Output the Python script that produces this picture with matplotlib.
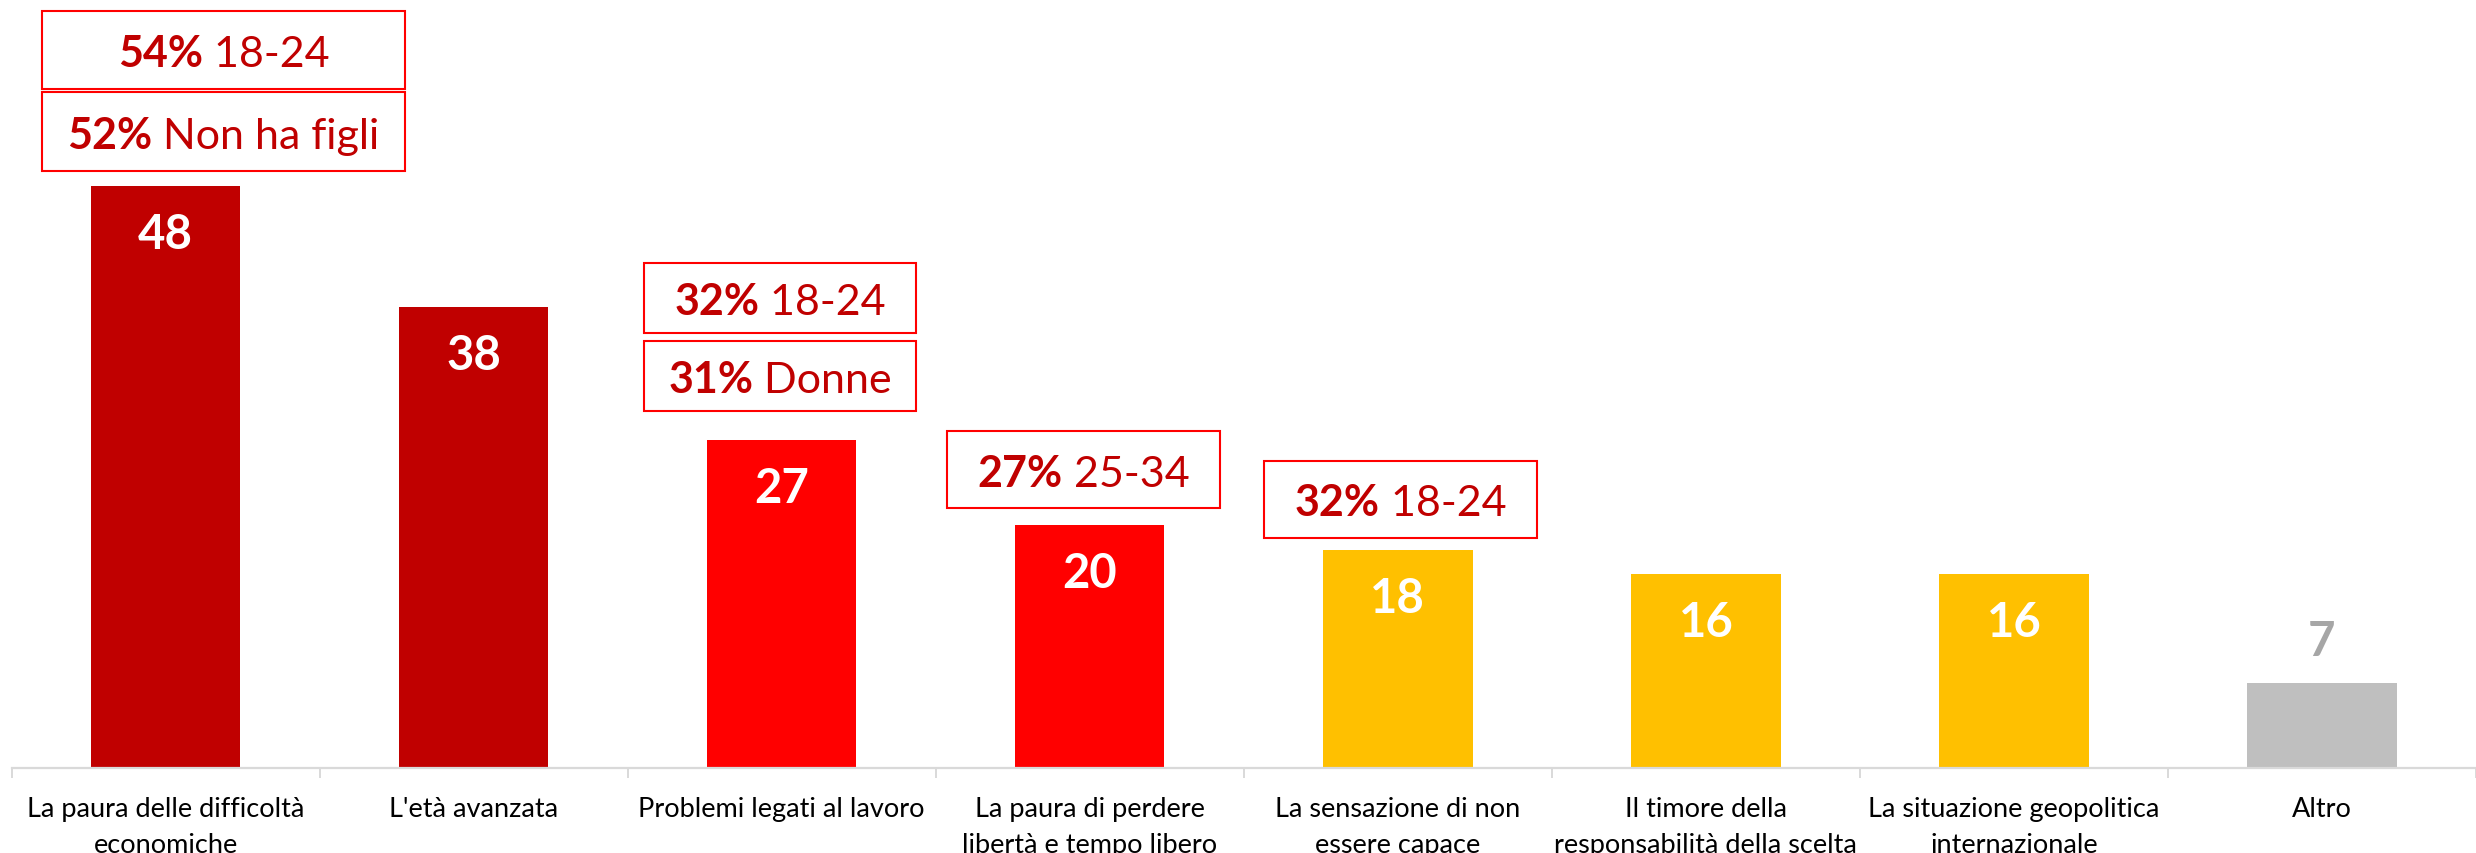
import matplotlib
matplotlib.use("Agg")
import matplotlib.pyplot as plt
from matplotlib.patches import Rectangle

plt.rcParams["font.family"] = ["Lato", "DejaVu Sans"]

# data
categories = [
    "La paura delle difficoltà\neconomiche",
    "L'età avanzata",
    "Problemi legati al lavoro",
    "La paura di perdere\nlibertà e tempo libero",
    "La sensazione di non\nessere capace",
    "Il timore della\nresponsabilità della scelta",
    "La situazione geopolitica\ninternazionale",
    "Altro",
]
values = [48, 38, 27, 20, 18, 16, 16, 7]
bar_colors = ["#C00000", "#C00000", "#FF0000", "#FF0000",
              "#FFC000", "#FFC000", "#FFC000", "#BFBFBF"]

# callouts: which bar, bold share, segment
callout_bar = [0, 0, 2, 2, 3, 4]
callout_pct = ["54%", "52%", "32%", "31%", "27%", "32%"]
callout_group = ["18-24", "Non ha figli", "18-24", "Donne", "25-34", "18-24"]

# box layout: x0, x1 (relative to bar centre), gap above bar, height
box_layout = [
    (-0.400, 0.776, 7.98, 6.42),
    (-0.400, 0.776, 1.20, 6.50),
    (-0.447, 0.437, 8.90, 5.75),
    (-0.447, 0.437, 2.40, 5.80),
    (-0.463, 0.424, 1.40, 6.40),
    (-0.434, 0.453, 1.00, 6.30),
]

W, H, DPI = 2476, 854, 100
PX_PER_UNIT = 12.13
AXIS_Y = 769
CAT_W = 310.0
LEFT = 11.6

fig = plt.figure(figsize=(W / DPI, H / DPI), dpi=DPI)
ax = fig.add_axes([LEFT / W, (H - AXIS_Y) / H, 1 - LEFT / W, AXIS_Y / H])

x = list(range(len(values)))
ax.bar(x, values, width=0.485, color=bar_colors, zorder=2)

ax.set_xlim(-0.5, -0.5 + (W - LEFT) / CAT_W)
ax.set_ylim(0, AXIS_Y / PX_PER_UNIT)

for s in ["top", "right", "left"]:
    ax.spines[s].set_visible(False)
ax.spines["bottom"].set_color("#D9D9D9")
ax.spines["bottom"].set_linewidth(1.6)
ax.set_yticks([])

ax.set_xticks(x)
ax.set_xticklabels(categories, fontsize=19.5, color="black", linespacing=1.55)
ax.tick_params(axis="x", which="major", length=0, pad=20)
ax.set_xticks([i - 0.5 for i in range(len(values) + 1)], minor=True)
ax.tick_params(axis="x", which="minor", length=7, width=1.4, color="#D9D9D9")

# value labels
for xi, v in zip(x, values):
    if v >= 10:
        ax.text(xi, v - 62 / PX_PER_UNIT, str(v), ha="center", va="baseline",
                fontsize=34, fontweight="bold", color="white", zorder=3)
    else:
        ax.text(xi, v + 28 / PX_PER_UNIT, str(v), ha="center", va="baseline",
                fontsize=34, fontweight="bold", color="#A6A6A6", zorder=3)

# callout boxes with bold percentage + regular segment
renderer = fig.canvas.get_renderer()
txt_color = "#C00000"
fs = 31


def text_width(s, weight):
    t = ax.text(0, 0, s, fontsize=fs, fontweight=weight)
    w = t.get_window_extent(renderer).width
    t.remove()
    return w


for b, pct, grp, (x0, x1, gap, h) in zip(callout_bar, callout_pct,
                                          callout_group, box_layout):
    y0 = values[b] + gap
    ax.add_patch(Rectangle((b + x0, y0), x1 - x0, h, facecolor="white",
                           edgecolor="#FF0000", linewidth=1.5, zorder=4,
                           clip_on=False))
    w_bold = text_width(pct, "bold")
    w_reg = text_width(" " + grp, "normal")
    total = w_bold + w_reg
    xc = b + (x0 + x1) / 2
    yb = y0 + h / 2 - 16 / PX_PER_UNIT
    ax.annotate(pct, (xc, yb), xytext=(-total / 2, 0), textcoords="offset pixels",
                ha="left", va="baseline", fontsize=fs, fontweight="bold",
                color=txt_color, zorder=5)
    ax.annotate(" " + grp, (xc, yb), xytext=(-total / 2 + w_bold, 0),
                textcoords="offset pixels", ha="left", va="baseline",
                fontsize=fs, color=txt_color, zorder=5)

fig.savefig("out.png", dpi=DPI)
